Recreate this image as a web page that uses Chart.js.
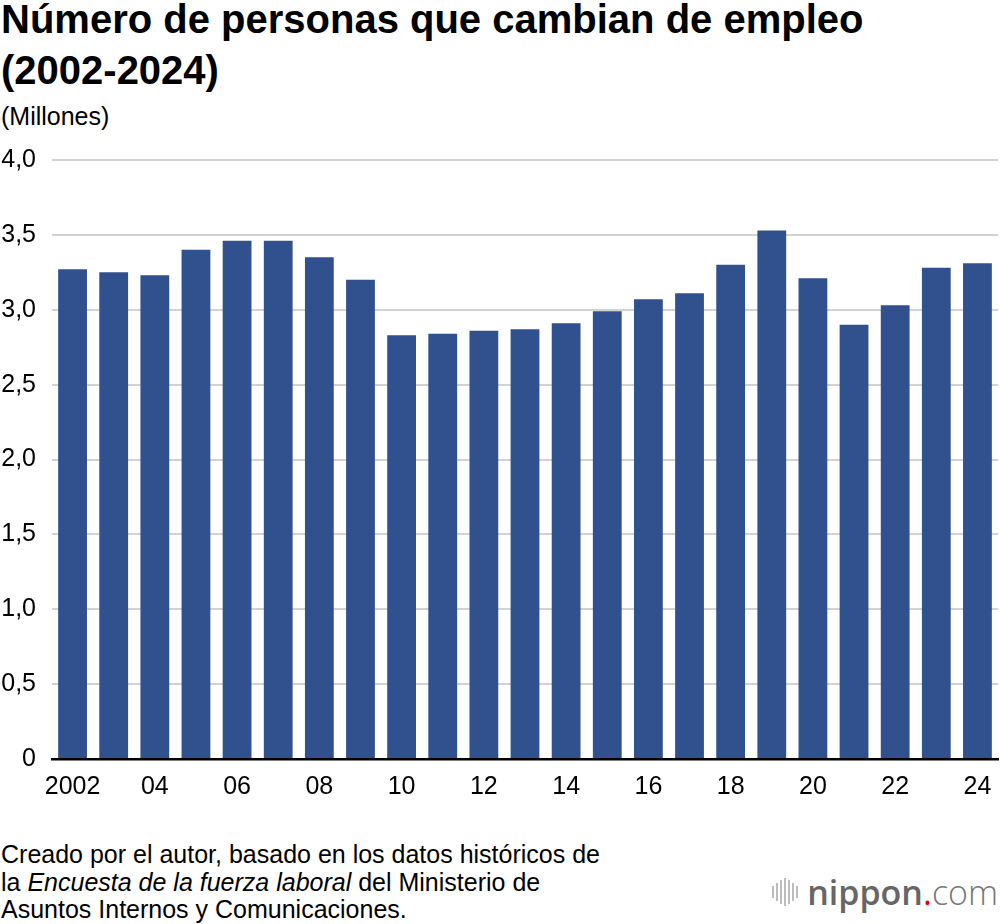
<!DOCTYPE html>
<html>
<head>
<meta charset="utf-8">
<script src="https://cdn.jsdelivr.net/npm/chart.js@4.4.1/dist/chart.umd.min.js"></script>
<style>
  html, body { margin: 0; padding: 0; background: #fff; }
  body { width: 1000px; height: 924px; position: relative; overflow: hidden;
         font-family: "Liberation Sans", Arial, Helvetica, sans-serif; color: #000; }
  #title { position: absolute; left: 1px; top: -6px; font-weight: bold; font-size: 40px;
           line-height: 51px; margin: 0; white-space: nowrap; }
  #unit { position: absolute; left: 1px; top: 102px; font-size: 25px; line-height: 28px; }
  #chartBox { position: absolute; left: 0; top: 129px; width: 1000px; height: 681px; }
  #source { position: absolute; left: 1px; top: 841px; font-size: 25px; line-height: 27.5px; white-space: nowrap; }
  #logo { position: absolute; right: 2px; top: 872px; height: 40px; display: flex; align-items: center; }
  #logo .bars { display: flex; align-items: center; gap: 2px; margin-right: 9px; }
  #logo .bars span { display: block; width: 2px; background: #bdbdbd; }
  #logo .txt { font-family: "Open Sans", sans-serif; font-size: 34px; color: #666; line-height: 40px; }
  #logo .txt b { font-weight: 600; }
  #logo .txt i { font-style: normal; color: #e60012; }
  #logo .txt em { font-style: normal; font-weight: 300; color: #777; }
</style>
</head>
<body>
<div id="title">Número de personas que cambian de empleo<br>(2002-2024)</div>
<div id="unit">(Millones)</div>
<div id="chartBox"><canvas id="jobChart"></canvas></div>
<div id="source">Creado por el autor, basado en los datos históricos de<br>la <i>Encuesta de la fuerza laboral</i> del Ministerio de<br>Asuntos Internos y Comunicaciones.</div>
<div id="logo">
  <div class="bars">
    <span style="height:12px"></span><span style="height:18px"></span><span style="height:24px"></span>
    <span style="height:28px"></span><span style="height:24px"></span><span style="height:18px"></span>
    <span style="height:12px"></span>
  </div>
  <div class="txt"><b>nippon</b><i>.</i><em>com</em></div>
</div>

<script>
const years = ['2002', '2003', '2004', '2005', '2006', '2007', '2008', '2009', '2010', '2011', '2012',
  '2013', '2014', '2015', '2016', '2017', '2018', '2019', '2020', '2021', '2022', '2023', '2024']

// millones de personas
const jobChangers = [3.27, 3.25, 3.23, 3.40, 3.46, 3.46, 3.35, 3.20, 2.83, 2.84, 2.86,
  2.87, 2.91, 2.99, 3.07, 3.11, 3.30, 3.53, 3.21, 2.90, 3.03, 3.28, 3.31]

const xTickLabels = ['2002', '', '04', '', '06', '', '08', '', '10', '', '12',
  '', '14', '', '16', '', '18', '', '20', '', '22', '', '24']

const yTickLabels = ['0', '0,5', '1,0', '1,5', '2,0', '2,5', '3,0', '3,5', '4,0']

const fontFamily = '"Liberation Sans", Arial, Helvetica, sans-serif'

const chart = new Chart(document.getElementById('jobChart'), {
  type: 'bar',
  data: {
    labels: years,
    datasets: [{
      label: 'Personas que cambian de empleo',
      data: jobChangers,
      backgroundColor: '#30508e',
      borderWidth: 0,
      categoryPercentage: 0.7,
      barPercentage: 1.0
    }]
  },
  options: {
    responsive: true,
    maintainAspectRatio: false,
    animation: false,
    layout: { padding: { top: 11, right: 2, left: 0, bottom: 0 } },
    plugins: {
      legend: { display: false },
      tooltip: { enabled: false }
    },
    scales: {
      x: {
        grid: { display: false },
        border: { display: true, color: '#000', width: 2.5 },
        ticks: {
          color: '#000',
          font: { family: fontFamily, size: 25 },
          autoSkip: false,
          maxRotation: 0,
          padding: 5,
          callback: (value, index) => xTickLabels[index]
        },
        afterFit: (scale) => { scale.height = 51 }
      },
      y: {
        min: 0,
        max: 4,
        grid: { color: '#d2d2d2', lineWidth: 2, drawTicks: false },
        border: { display: false },
        ticks: {
          stepSize: 0.5,
          color: '#000',
          font: { family: fontFamily, size: 25 },
          padding: 16,
          callback: (value, index) => yTickLabels[index]
        },
        afterFit: (scale) => { scale.width = 52 }
      }
    }
  }
})
</script>
</body>
</html>
